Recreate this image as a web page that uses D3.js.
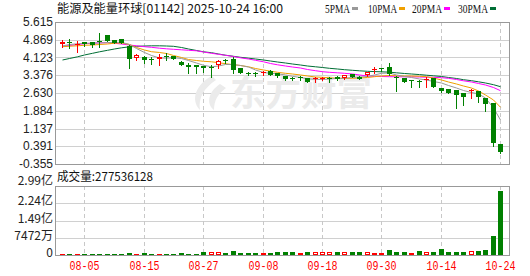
<!DOCTYPE html>
<html>
<head>
<meta charset="utf-8">
<script src="https://cdn.jsdelivr.net/npm/d3@7"></script>
<style>
  body { margin: 0; background: #fff; }
  svg { display: block; }
</style>
</head>
<body>
<div id="chart"></div>
<script>
// trading days shown (2025)
var dates = ["07-31","08-01","08-04","08-05","08-06","08-07","08-08","08-11","08-12","08-13",
  "08-14","08-15","08-18","08-19","08-20","08-21","08-22","08-25","08-26","08-27",
  "08-28","08-29","09-01","09-02","09-03","09-04","09-05","09-08","09-09","09-10",
  "09-11","09-12","09-15","09-16","09-17","09-18","09-19","09-22","09-23","09-24",
  "09-25","09-26","09-29","09-30","10-02","10-03","10-06","10-08","10-09","10-10",
  "10-13","10-14","10-15","10-16","10-17","10-20","10-21","10-22","10-23","10-24"];
var tickDates = ["08-05","08-15","08-27","09-08","09-18","09-30","10-14","10-24"];

var open = [4.690,4.762,4.669,4.762,4.774,4.837,5.068,4.858,4.900,4.627,
  4.089,4.156,4.059,4.047,4.198,4.186,3.954,3.807,3.807,3.765,
  3.744,3.807,4.017,4.047,3.668,3.483,3.458,3.479,3.568,3.458,
  3.345,3.248,3.290,3.248,3.227,3.219,3.248,3.303,3.248,3.416,
  3.315,3.366,3.610,3.668,3.736,3.303,3.248,3.164,3.147,3.177,
  3.240,2.828,2.786,2.756,2.609,2.718,2.714,2.407,2.210,0.486];
var high = [4.858,4.888,4.829,4.787,4.795,5.153,5.068,4.879,4.900,4.648,
  4.270,4.186,4.156,4.270,4.299,4.186,3.975,3.904,3.807,3.765,
  3.807,4.017,4.059,4.144,3.681,3.513,3.492,3.555,3.576,3.471,
  3.345,3.303,3.324,3.261,3.315,3.282,3.303,3.324,3.388,3.429,
  3.324,3.513,3.736,3.681,3.879,3.324,3.261,3.177,3.156,3.303,
  3.248,2.840,2.798,2.756,2.617,2.819,2.727,2.420,2.222,0.486];
var low = [4.577,4.509,4.366,4.606,4.577,4.577,4.816,4.732,4.720,3.702,
  4.017,3.879,3.837,3.807,4.017,4.047,3.795,3.483,3.458,3.525,
  3.315,3.681,3.879,3.458,3.483,3.388,3.345,3.388,3.374,3.315,
  3.177,3.156,3.177,3.080,3.105,3.177,3.105,3.177,3.219,3.282,
  3.198,3.345,3.483,3.555,3.388,2.727,3.093,2.882,2.882,2.882,
  2.882,2.693,2.617,1.987,2.146,2.407,2.264,1.894,0.414,0.120];
var close = [4.774,4.732,4.711,4.690,4.648,4.808,4.816,4.745,4.732,4.080,
  4.228,4.017,4.034,4.123,4.173,4.059,3.807,3.711,3.711,3.668,
  3.723,3.996,3.988,3.597,3.483,3.458,3.429,3.500,3.388,3.345,
  3.198,3.227,3.269,3.093,3.248,3.240,3.227,3.198,3.366,3.290,
  3.206,3.500,3.639,3.647,3.408,3.240,3.105,3.143,3.126,3.198,
  2.895,2.714,2.630,2.546,2.474,2.744,2.441,2.155,0.515,0.162];

var ma5 = [4.606,4.669,4.699,4.720,4.724,4.732,4.753,4.753,4.762,4.669,
  4.501,4.333,4.207,4.102,4.093,4.114,4.080,3.996,3.891,3.795,
  3.732,3.765,3.828,3.828,3.786,3.723,3.597,3.492,3.458,3.437,
  3.388,3.332,3.282,3.227,3.206,3.198,3.219,3.240,3.252,3.282,
  3.303,3.324,3.388,3.458,3.471,3.388,3.324,3.282,3.219,3.177,
  3.114,3.051,2.945,2.840,2.735,2.651,2.588,2.420,2.000,1.495];
var ma10 = [4.577,4.598,4.614,4.636,4.648,4.669,4.690,4.724,4.732,4.669,
  4.543,4.438,4.366,4.333,4.291,4.207,4.123,4.038,3.996,3.963,
  3.942,3.904,3.862,3.820,3.786,3.732,3.660,3.597,3.547,3.500,
  3.458,3.429,3.388,3.345,3.303,3.290,3.269,3.252,3.248,3.248,
  3.261,3.282,3.315,3.345,3.366,3.357,3.345,3.345,3.332,3.315,
  3.261,3.177,3.093,3.008,2.924,2.840,2.714,2.546,2.336,2.029];
var ma20 = [4.585,4.627,4.669,4.699,4.724,4.741,4.741,4.720,4.690,4.648,
  4.614,4.577,4.551,4.514,4.488,4.467,4.446,4.425,4.404,4.354,
  4.299,4.257,4.215,4.165,4.110,4.059,4.005,3.942,3.870,3.816,
  3.765,3.723,3.681,3.618,3.568,3.525,3.500,3.479,3.458,3.429,
  3.388,3.345,3.332,3.324,3.315,3.311,3.311,3.311,3.303,3.294,
  3.290,3.273,3.248,3.198,3.143,3.093,3.030,2.966,2.861,2.727];
var ma30 = [4.017,4.080,4.152,4.228,4.299,4.362,4.425,4.480,4.530,4.572,
  4.593,4.606,4.614,4.614,4.606,4.593,4.543,4.480,4.417,4.362,
  4.324,4.270,4.219,4.173,4.131,4.093,4.059,4.017,3.975,3.933,
  3.891,3.849,3.807,3.765,3.732,3.702,3.668,3.639,3.610,3.584,
  3.563,3.542,3.530,3.521,3.505,3.479,3.450,3.429,3.404,3.378,
  3.353,3.324,3.282,3.240,3.189,3.147,3.101,3.051,2.979,2.895];

// volume in shares, and whether the bar is drawn as "up" (red)
var volume = [5600000,5600000,5600000,5600000,5600000,5600000,5600000,5600000,5600000,10000000,
  5600000,10000000,5600000,5600000,5600000,5600000,10000000,5600000,5600000,11700000,
  14300000,14300000,10000000,15200000,10000000,10000000,10000000,10000000,10000000,13000000,
  13000000,13000000,10000000,13000000,13000000,13000000,13000000,13000000,13000000,13000000,
  13000000,13000000,10000000,10000000,23000000,13000000,13000000,10000000,18600000,13000000,
  13000000,26000000,13000000,13000000,13000000,17300000,15200000,20400000,83600000,277536128];
var volUp = [1,0,1,0,0,0,0,0,0,0, 1,0,0,1,0,0,0,0,0,0, 1,1,0,0,0,0,0,1,0,0,
  0,0,1,0,1,1,1,0,1,0, 0,1,1,1,0,0,0,1,0,1, 0,0,0,0,0,1,0,0,0,0];

var priceTicks = [5.615,4.869,4.123,3.376,2.630,1.884,1.137,0.391,-0.355];
var volTicks = [298880000,224160000,149440000,74720000,0];
var volTickLabels = ["2.99亿","2.24亿","1.49亿","7472万","0"];

var maSeries = [
  {name: "5PMA", values: ma5, color: "#999999"},
  {name: "10PMA", values: ma10, color: "#f0a000"},
  {name: "20PMA", values: ma20, color: "#ff00ff"},
  {name: "30PMA", values: ma30, color: "#006e35"}
];

var W = 530, H = 276;
var left = 56, right = 509;
var mainTop = 22, mainBot = 164, volTop = 186, volBot = 255;
var RED = "#ff0000", GREEN = "#008000";
var numFont = "'Liberation Sans', Arial, sans-serif";
var cjkFont = "'Noto Sans CJK SC', 'Liberation Sans', sans-serif";

var svg = d3.select("#chart").append("svg").attr("width", W).attr("height", H);

var x = d3.scaleBand().domain(d3.range(dates.length)).range([57, 57 + dates.length * 7.47]).padding(0.33);
var cx = function(i){ return Math.round(x(i) + x.bandwidth() / 2); };
var y = d3.scaleLinear().domain([-0.355, 5.615]).range([mainBot, mainTop]);
var yv = d3.scaleLinear().domain([0, 298880000]).range([volBot, volTop]);

// grids
var grid = svg.append("g").attr("shape-rendering", "crispEdges");
grid.selectAll(".hp").data(priceTicks).enter().append("line")
  .attr("x1", left).attr("x2", right)
  .attr("y1", function(d){ return Math.round(y(d)) + 0.5; })
  .attr("y2", function(d){ return Math.round(y(d)) + 0.5; })
  .attr("stroke", "#d0d0d0");
grid.selectAll(".hv").data(volTicks).enter().append("line")
  .attr("x1", left).attr("x2", right)
  .attr("y1", function(d){ return Math.round(yv(d)) + 0.5; })
  .attr("y2", function(d){ return Math.round(yv(d)) + 0.5; })
  .attr("stroke", "#d0d0d0");
tickDates.forEach(function(t){
  var i = dates.indexOf(t);
  [[mainTop, mainBot], [volTop, volBot]].forEach(function(r){
    grid.append("line")
      .attr("x1", cx(i) + 0.5).attr("x2", cx(i) + 0.5)
      .attr("y1", r[0]).attr("y2", r[1])
      .attr("stroke", "#c8c8c8").attr("stroke-dasharray", "4,3");
  });
});

// watermark
var wm = svg.append("g").attr("fill", "#ebebeb");
wm.append("path").attr("d", "M212,76 C196,84 190,100 200,110 C198,98 204,88 216,80 Z M220,84 C208,92 206,104 214,110 C214,100 218,94 226,88 Z");
wm.append("text").attr("x", 230).attr("y", 106)
  .attr("font-family", cjkFont).attr("font-size", 35).attr("font-weight", "bold")
  .attr("textLength", 142).attr("lengthAdjust", "spacingAndGlyphs")
  .text("东方财富");

// borders
svg.append("rect").attr("x", left - 0.5).attr("y", mainTop + 0.5)
  .attr("width", right - left + 1).attr("height", mainBot - mainTop)
  .attr("fill", "none").attr("stroke", "#999").attr("shape-rendering", "crispEdges");
svg.append("rect").attr("x", left - 0.5).attr("y", volTop + 0.5)
  .attr("width", right - left + 1).attr("height", volBot - volTop)
  .attr("fill", "none").attr("stroke", "#999").attr("shape-rendering", "crispEdges");

// moving averages
var line = d3.line().x(function(d, i){ return cx(i) + 0.5; }).y(function(d){ return y(d); });
svg.append("g").selectAll("path").data(maSeries.slice().reverse()).enter().append("path")
  .attr("d", function(s){ return line(s.values); })
  .attr("fill", "none").attr("stroke", function(s){ return s.color; }).attr("stroke-width", 1);

// candles
var candles = svg.append("g").attr("shape-rendering", "crispEdges");
dates.forEach(function(d, i){
  var up = close[i] > open[i];
  var col = up ? RED : GREEN;
  var c = cx(i);
  var top = Math.round(y(Math.max(open[i], close[i])));
  var bot = Math.round(y(Math.min(open[i], close[i])));
  var h = Math.max(1, bot - top);
  candles.append("line").attr("x1", c + 0.5).attr("x2", c + 0.5)
    .attr("y1", Math.round(y(high[i]))).attr("y2", Math.round(y(low[i])) + 1)
    .attr("stroke", col);
  if (up && h > 2) {
    candles.append("rect").attr("x", c - 1.5).attr("y", top + 0.5)
      .attr("width", 4).attr("height", h - 1)
      .attr("fill", "#fff").attr("stroke", col);
  } else {
    candles.append("rect").attr("x", c - 2).attr("y", top)
      .attr("width", 5).attr("height", h).attr("fill", col);
  }
});

// volume bars
var vbars = svg.append("g").attr("shape-rendering", "crispEdges");
volume.forEach(function(v, i){
  var c = cx(i);
  var top = Math.round(yv(v));
  var h = Math.max(1, volBot - top);
  if (volUp[i]) {
    if (h > 2) {
      vbars.append("rect").attr("x", c - 1.5).attr("y", top + 0.5)
        .attr("width", 4).attr("height", h - 1).attr("fill", "#fff").attr("stroke", RED);
    } else {
      vbars.append("rect").attr("x", c - 2).attr("y", top).attr("width", 5).attr("height", h).attr("fill", RED);
    }
  } else {
    vbars.append("rect").attr("x", c - 2).attr("y", top).attr("width", 5).attr("height", h).attr("fill", GREEN);
  }
});

// axis labels
svg.append("g").selectAll("text").data(priceTicks).enter().append("text")
  .attr("x", 53).attr("y", function(d){ return y(d); }).attr("dy", "0.35em")
  .attr("text-anchor", "end").attr("font-family", numFont).attr("font-size", 12).attr("fill", "#222")
  .text(function(d){ return d.toFixed(3); });
svg.append("g").selectAll("text").data(volTicks).enter().append("text")
  .attr("x", 53).attr("y", function(d, i){ return yv(d) - (i === 0 ? 5 : 2); }).attr("dy", "0.35em")
  .attr("text-anchor", "end").attr("font-family", cjkFont).attr("font-size", 12).attr("fill", "#222")
  .text(function(d, i){ return volTickLabels[i]; });
svg.append("g").selectAll("text").data(tickDates).enter().append("text")
  .attr("x", function(t){ return cx(dates.indexOf(t)) + 0.5; }).attr("y", 270)
  .attr("text-anchor", "middle").attr("font-family", "'Liberation Mono', monospace").attr("font-size", 12)
  .attr("textLength", 30).attr("lengthAdjust", "spacingAndGlyphs")
  .attr("fill", RED).text(function(t){ return t; });

// header and legend
svg.append("text").attr("x", 57).attr("y", 13)
  .attr("font-family", cjkFont).attr("font-size", 12).attr("fill", "#111")
  .attr("textLength", 226).attr("lengthAdjust", "spacingAndGlyphs")
  .text("能源及能量环球[01142] 2025-10-24 16:00");
var legendX = [325, 368, 412, 458];
var legendW = [25, 29, 30, 30];
var leg = svg.append("g");
maSeries.forEach(function(s, i){
  leg.append("text").attr("x", legendX[i]).attr("y", 13)
    .attr("font-family", "'Liberation Serif', serif").attr("font-size", 12).attr("fill", "#111")
    .attr("textLength", legendW[i]).attr("lengthAdjust", "spacingAndGlyphs").text(s.name);
  leg.append("rect").attr("x", legendX[i] + legendW[i] + 2).attr("y", 7)
    .attr("width", 6).attr("height", 3).attr("fill", s.color);
});

svg.append("text").attr("x", 57).attr("y", 181)
  .attr("font-family", cjkFont).attr("font-size", 12).attr("fill", "#111")
  .attr("textLength", 96).attr("lengthAdjust", "spacingAndGlyphs")
  .text("成交量:" + volume[volume.length - 1]);
</script>
</body>
</html>
